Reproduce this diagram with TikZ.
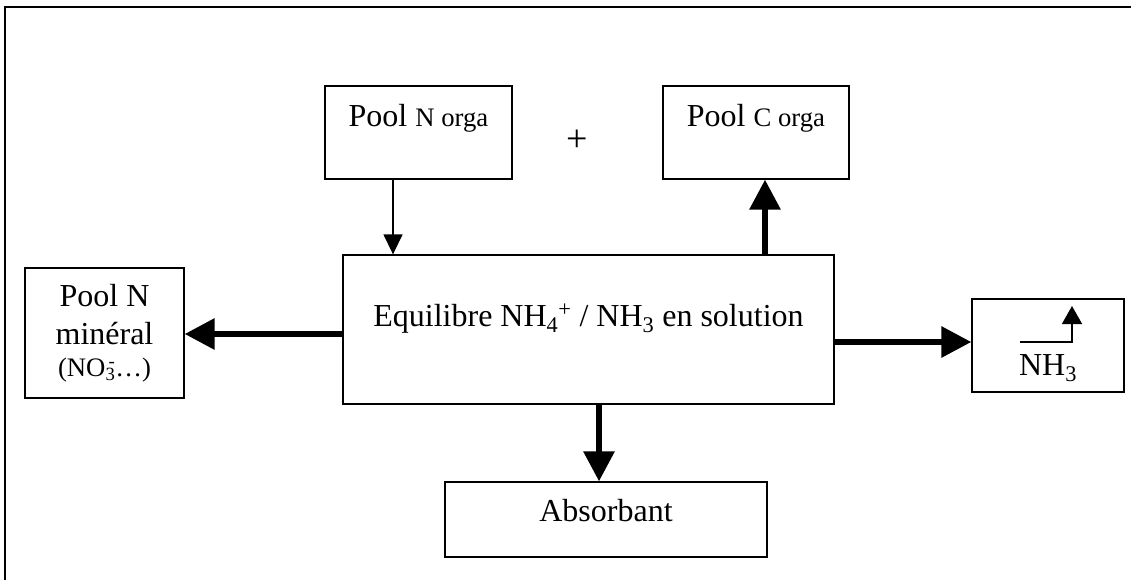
\documentclass[tikz,border=0pt]{standalone}
\usepackage{fontspec}
\setmainfont{Liberation Serif}
\usetikzlibrary{arrows.meta}
\newcommand\bigpt{\fontsize{32}{38}\selectfont}
\newcommand\smallpt{\fontsize{26.7}{32}\selectfont}

\begin{document}
\begin{tikzpicture}[x=1pt, y=-1pt,
  box/.style={draw, line width=1.3pt, inner sep=0pt, font=\bigpt},
  fine/.style={line width=1.4pt, -{Triangle[length=20pt,width=19pt]}},
  big/.style={line width=6pt, -{Triangle[length=30pt,width=30pt]}}]
\useasboundingbox (0,0) rectangle (1131,580);
\clip (0,0) rectangle (1131,580);
% frame
\draw[line width=2pt] (5,7.5) rectangle (1150,600);

% boxes
\node[box, minimum width=187pt, text height=41pt, text depth=52pt] (norga) at (418.5,132.5) {Pool {\smallpt N orga}};
\node[box, minimum width=186pt, text height=41pt, text depth=52pt] (corga) at (756,132.5) {Pool {\smallpt C orga}};
\node[font=\fontsize{38}{44}\selectfont] (plus) at (577,141) {+};
\node[box, minimum width=491pt, text height=71pt, text depth=78pt] (eq) at (588.5,329.5) {Equilibre NH\textsubscript{4}\textsuperscript{+} / NH\textsubscript{3} en solution};
\node[box, minimum width=159pt, minimum height=130pt, align=center] (mineral) at (104.5,333) {Pool N\\ minéral\\[-6pt] {\smallpt (NO\textsubscript{3}\llap{\textsuperscript{-}}…)}};
\node[box, minimum width=152pt, text height=76pt, text depth=17pt] (nh3) at (1048,345.5) {NH\textsubscript{3}};
\node[box, minimum width=322pt, text height=39pt, text depth=36pt] (absorb) at (606,519.5) {Absorbant};

% flows
\draw[fine] ([xshift=-25.5pt]norga.south) -- ([xshift=-25.5pt]norga.south |- eq.north);
\draw[big] ([xshift=9pt]corga.south |- eq.north) -- ([xshift=9pt]corga.south);
\draw[big] ([yshift=-4.5pt]eq.west) -- ([yshift=-4.5pt]eq.west -| mineral.east);
\draw[big] ([yshift=-12.5pt]eq.east) -- ([yshift=-12.5pt]eq.east -| nh3.west);
\draw[big] ([xshift=10.5pt]eq.south) -- ([xshift=10.5pt]eq.south |- absorb.north);
% volatilisation
\draw[line width=1.4pt, -{Triangle[length=18pt,width=20pt]}] ([shift={(-28,-3.5)}]nh3.center) -| ([shift={(24,-39.5)}]nh3.center);
\end{tikzpicture}
\end{document}
